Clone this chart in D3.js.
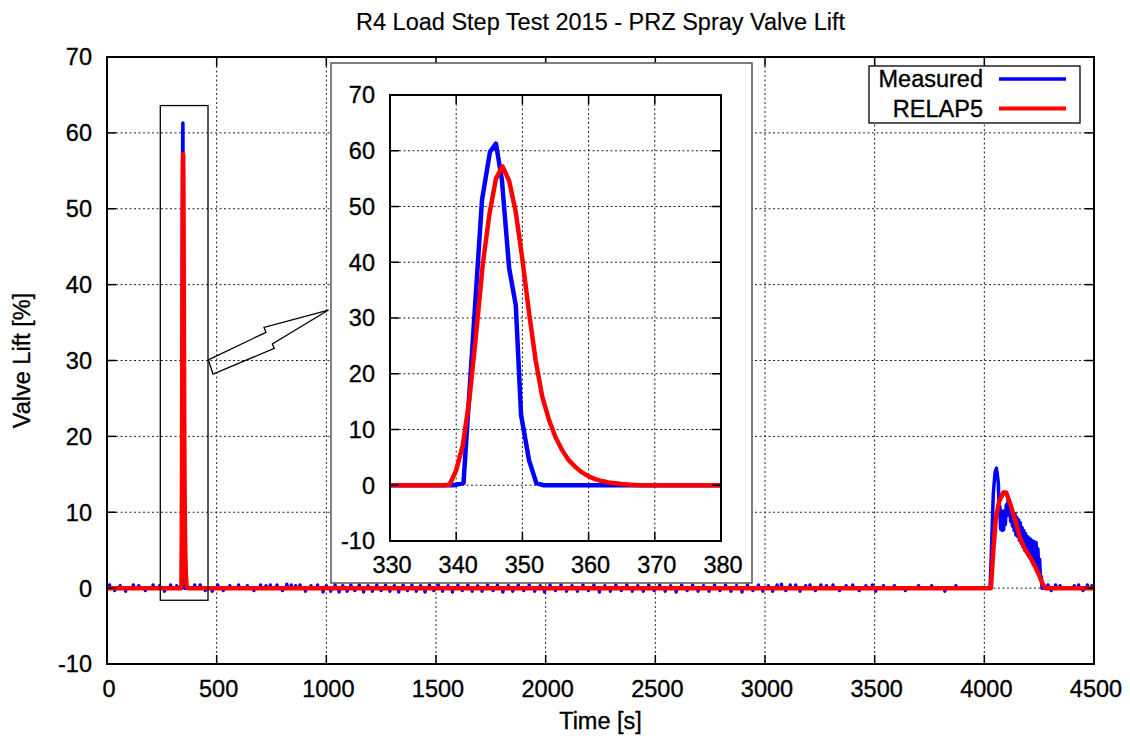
<!DOCTYPE html>
<html><head><meta charset="utf-8">
<script src="https://cdn.jsdelivr.net/npm/d3@7"></script>
<style>
body{margin:0;background:#fff;}
text{font-family:"Liberation Sans",Arial,Helvetica,sans-serif;fill:#000;stroke:#000;stroke-width:0.35px;}
</style>
</head><body>
<svg id="c" width="1130" height="740"></svg>
<script>
// ---------- data ----------
const chartTitle = "R4 Load Step Test 2015 - PRZ Spray Valve Lift";
const xLabel = "Time [s]";
const yLabel = "Valve Lift [%]";
const seriesNames = ["Measured", "RELAP5"];
const seriesColors = ["#0000ff", "#ff0000"];

const xTicksMain = [0, 500, 1000, 1500, 2000, 2500, 3000, 3500, 4000, 4500];
const yTicks = [-10, 0, 10, 20, 30, 40, 50, 60, 70];
const xTicksInset = [330, 340, 350, 360, 370, 380];

// Measured: first spray event (s, %)
const measuredPeak1 = [[336,0],[339.6,0],[341.1,0.4],[343.9,51.2],[345.1,59.8],[346,61.3],[346.9,54.8],
  [348,38.9],[349,32.3],[349.8,12.6],[351,4.5],[352.1,0.4],[353.2,0],[384,0]];
// Measured: second spray event
const measuredPeak2 = [[4026,0],[4030,3.0],[4034,6.5],[4041,12.5],[4049,15.3],[4055,15.8],[4060,14.8],[4064,13.8],
  [4068,9.5],[4071,10.8],[4074,7.8],[4078,10.2],[4081,7.6],[4085,9.8],[4088,7.7],[4092,10.2],[4096,8.4],
  [4100,11.0],[4104,9.6],[4108,11.5],[4112,9.8],[4116,10.8],[4120,8.8],[4124,10.0],[4128,8.2],[4132,9.6],
  [4136,7.6],[4140,9.8],[4144,7.0],[4148,9.3],[4152,6.8],[4156,9.0],[4160,6.3],[4164,8.6],[4168,5.9],
  [4172,8.0],[4176,5.5],[4180,7.6],[4184,5.0],[4188,7.2],[4192,4.7],[4196,6.8],[4200,4.4],[4204,6.6],
  [4208,4.1],[4212,6.4],[4216,3.9],[4220,6.2],[4224,3.7],[4228,6.1],[4232,3.5],[4236,6.0],[4240,3.2],
  [4244,5.2],[4248,2.5],[4252,3.8],[4256,1.2],[4260,1.5],[4263,0]];
// Measured: small noise spikes around zero (s, %)
const measuredNoise = [[12,0.4],[35,-0.3],[60,0.3],[85,-0.4],[120,0.4],[145,0.3],[175,-0.3],[210,0.4],[240,0.3],
  [262,-0.4],[290,0.4],[318,0.3],[400,0.4],[425,0.4],[448,-0.3],[480,-0.4],[505,0.4],[530,-0.3],[560,0.3],
  [600,0.4],[640,0.3],[670,-0.3],[700,0.4],[725,0.3],[745,0.4],[775,0.4],[800,-0.3],[820,0.5],[840,0.4],
  [860,0.3],[880,0.4],[905,-0.4],[930,0.3],[960,0.4],[985,-0.5],[1000,0.3],[1020,-0.4],[1040,0.4],[1058,-0.5],
  [1075,0.3],[1095,-0.4],[1112,0.4],[1130,-0.3],[1150,0.4],[1170,-0.5],[1190,0.3],[1210,-0.4],[1230,0.4],
  [1250,-0.3],[1270,0.4],[1290,-0.4],[1310,0.3],[1330,-0.5],[1350,0.4],[1370,-0.3],[1390,0.4],[1410,-0.4],
  [1430,0.3],[1450,-0.5],[1470,0.4],[1490,-0.3],[1510,0.4],[1530,-0.4],[1555,0.3],[1575,-0.5],[1600,0.4],
  [1620,-0.3],[1645,0.4],[1665,-0.4],[1690,0.3],[1710,-0.4],[1735,0.4],[1760,-0.3],[1780,0.4],[1805,-0.5],
  [1830,0.3],[1850,-0.4],[1875,0.4],[1900,-0.3],[1925,0.4],[1950,-0.4],[1975,0.3],[1995,-0.5],[2020,0.4],
  [2045,-0.3],[2070,0.4],[2095,-0.4],[2120,0.3],[2145,-0.4],[2170,0.4],[2195,-0.3],[2220,0.4],[2245,-0.5],
  [2270,0.3],[2295,-0.4],[2320,0.4],[2345,-0.3],[2370,0.4],[2395,-0.4],[2420,0.3],[2445,-0.4],[2470,0.4],
  [2495,-0.3],[2520,0.4],[2545,-0.4],[2570,0.3],[2595,-0.5],[2620,0.4],[2645,-0.3],[2670,0.4],[2695,-0.4],
  [2720,0.3],[2745,-0.4],[2770,0.4],[2795,-0.3],[2820,0.4],[2845,-0.4],[2870,0.3],[2895,-0.5],[2920,0.4],
  [2945,-0.3],[2970,0.4],[2990,-0.4],[3015,0.3],[3035,-0.4],[3055,0.4],[3075,0.5],[3095,-0.3],[3115,0.4],
  [3140,0.4],[3160,-0.4],[3185,0.3],[3205,0.4],[3230,-0.3],[3255,0.4],[3280,0.3],[3310,0.4],[3340,-0.3],
  [3370,0.3],[3400,0.4],[3430,-0.3],[3460,0.3],[3490,0.4],[3505,-0.4],[3540,0.3],[3590,0.3],[3640,-0.3],
  [3700,0.3],[3760,0.3],[3820,-0.4],[3870,0.3],[4290,0.4],[4305,-0.3],[4325,0.4],[4345,0.3],[4410,0.3],
  [4430,0.4],[4450,-0.3],[4470,0.4],[4490,0.3]];

// RELAP5 simulation
const relapPeak1 = [[330,0],[338,0],[339,0.1],[340,2.7],[341,7.2],[342,15.5],[343,27],[344,39.5],[345,48.5],
  [346,55],[347,57.2],[348,54.6],[349,49],[350,40.5],[351,31],[352,22.4],[353,15.9],[354,11.8],[355,8.6],
  [356,6.3],[357,4.5],[358,3.3],[359,2.3],[360,1.6],[361,1.1],[362,0.75],[363,0.5],[364,0.35],[365,0.22],
  [366,0.12],[367,0.06],[368,0.02],[369,0],[380,0]];
const relapPeak2 = [[4030,0],[4041,5.0],[4052,9.0],[4067,11.4],[4087,12.6],[4100,12.6],[4117,11.2],[4140,9.0],
  [4163,6.6],[4186,5.1],[4212,3.9],[4232,2.8],[4250,1.7],[4265,0.6],[4277,0]];

// zoom box and arrow annotations (data coordinates)
const zoomBox = {x0: 243, x1: 460.5, y0: -1.6, y1: 63.6};
const arrowPoints = [[461.9,30.09],[724.9,33.71],[715.8,34.37],[1009.9,36.65],[753.7,32.17],[762.8,31.6],[483.3,28.21]];

// ---------- build series ----------
let measured = [[0,0]];
measuredNoise.forEach(([t,v]) => measured.push([t-1.5,0],[t,v],[t+1.5,0]));
measured = measured.concat(measuredPeak1, measuredPeak2);
measured.push([4500,0]);
measured.sort((a,b) => a[0]-b[0]);
const relap = [[0,0]].concat(relapPeak1, relapPeak2, [[4500,0]]);

// ---------- layout ----------
const svg = d3.select("#c");
const P = {l:107, r:1094, t:57, b:664};
const I = {l:390, r:721, t:95, b:541};
const F = {l:331, t:63, r:752, b:583};
const FS = 23.5;

const x = d3.scaleLinear().domain([0,4500]).range([P.l,P.r]);
const y = d3.scaleLinear().domain([-10,70]).range([P.b,P.t]);
const xi = d3.scaleLinear().domain([330,380]).range([I.l,I.r]);
const yi = d3.scaleLinear().domain([-10,70]).range([I.b,I.t]);

const defs = svg.append("defs");
defs.append("clipPath").attr("id","cm").append("rect").attr("x",P.l).attr("y",P.t).attr("width",P.r-P.l).attr("height",P.b-P.t);
defs.append("clipPath").attr("id","ci").append("rect").attr("x",I.l).attr("y",I.t).attr("width",I.r-I.l).attr("height",I.b-I.t);

function drawPanel(g, xs, ys, xt, yt, box, lw) {
  g.append("g").selectAll("line").data(xt.filter(v => xs(v) > box.l+1 && xs(v) < box.r-1)).join("line")
    .attr("x1", d=>xs(d)).attr("x2", d=>xs(d)).attr("y1", box.t).attr("y2", box.b)
    .attr("stroke","#222").attr("stroke-width",1).attr("stroke-dasharray","2,2.5");
  g.append("g").selectAll("line").data(yt.filter(v => ys(v) > box.t+1 && ys(v) < box.b-1)).join("line")
    .attr("y1", d=>ys(d)).attr("y2", d=>ys(d)).attr("x1", box.l).attr("x2", box.r)
    .attr("stroke","#222").attr("stroke-width",1).attr("stroke-dasharray","2,2.5");
  const line = d3.line().x(d=>xs(d[0])).y(d=>ys(d[1]));
  const dg = g.append("g").attr("clip-path", box.clip);
  dg.append("path").datum(measured).attr("d", line).attr("fill","none")
    .attr("stroke", seriesColors[0]).attr("stroke-width", lw[0]).attr("stroke-linejoin","round");
  dg.append("path").datum(relap).attr("d", line).attr("fill","none")
    .attr("stroke", seriesColors[1]).attr("stroke-width", lw[1]).attr("stroke-linejoin","round");
}

function drawAxes(g, xs, ys, xt, yt, box, xLabY, yLabX) {
  const tl = 9;
  const tg = g.append("g").attr("stroke","#000").attr("stroke-width",1.5);
  xt.forEach(v => {
    tg.append("line").attr("x1",xs(v)).attr("x2",xs(v)).attr("y1",box.b).attr("y2",box.b-tl);
    tg.append("line").attr("x1",xs(v)).attr("x2",xs(v)).attr("y1",box.t).attr("y2",box.t+tl);
  });
  yt.forEach(v => {
    tg.append("line").attr("y1",ys(v)).attr("y2",ys(v)).attr("x1",box.l).attr("x2",box.l+tl);
    tg.append("line").attr("y1",ys(v)).attr("y2",ys(v)).attr("x1",box.r).attr("x2",box.r-tl);
  });
  g.append("rect").attr("x",box.l).attr("y",box.t).attr("width",box.r-box.l).attr("height",box.b-box.t)
    .attr("fill","none").attr("stroke","#000").attr("stroke-width",2);
  g.append("g").selectAll("text").data(xt).join("text")
    .attr("x", d=>xs(d)+2).attr("y", xLabY).attr("text-anchor","middle").attr("font-size",FS).text(d=>d);
  g.append("g").selectAll("text").data(yt).join("text")
    .attr("x", yLabX).attr("y", d=>ys(d)).attr("dy","0.36em").attr("text-anchor","end").attr("font-size",FS).text(d=>d);
}

// main panel
const gm = svg.append("g");
drawPanel(gm, x, y, xTicksMain, yTicks, {...P, clip:"url(#cm)"}, [3.5,4.5]);

gm.append("rect").attr("x", x(zoomBox.x0)).attr("y", y(zoomBox.y1))
  .attr("width", x(zoomBox.x1)-x(zoomBox.x0)).attr("height", y(zoomBox.y0)-y(zoomBox.y1))
  .attr("fill","none").attr("stroke","#000").attr("stroke-width",1.3);
gm.append("path").attr("d", d3.line().x(d=>x(d[0])).y(d=>y(d[1])).curve(d3.curveLinearClosed)(arrowPoints))
  .attr("fill","none").attr("stroke","#000").attr("stroke-width",1.3).attr("stroke-linejoin","miter");

drawAxes(gm, x, y, xTicksMain, yTicks, P, 697, 92);

// inset
const gi = svg.append("g");
gi.append("rect").attr("x",F.l).attr("y",F.t).attr("width",F.r-F.l).attr("height",F.b-F.t)
  .attr("fill","#fff").attr("stroke","#555").attr("stroke-width",1.5);
drawPanel(gi, xi, yi, xTicksInset, yTicks, {...I, clip:"url(#ci)"}, [4.5,4.5]);
drawAxes(gi, xi, yi, xTicksInset, yTicks, I, 573, 375);

// legend
const lg = svg.append("g");
lg.append("rect").attr("x",869).attr("y",66).attr("width",211).attr("height",57)
  .attr("fill","#fff").attr("stroke","#000").attr("stroke-width",1.3);
seriesNames.forEach((n,i) => {
  const yy = 79 + i*29.5;
  lg.append("text").attr("x",983).attr("y",yy).attr("dy","0.36em").attr("text-anchor","end").attr("font-size",FS).text(n);
  lg.append("line").attr("x1",999).attr("x2",1066).attr("y1",yy).attr("y2",yy)
    .attr("stroke",seriesColors[i]).attr("stroke-width",i===0?3.5:4);
});

// titles
svg.append("text").attr("x",(P.l+P.r)/2).attr("y",30).attr("text-anchor","middle").attr("font-size",FS).style("stroke-width","0.15px").text(chartTitle);
svg.append("text").attr("x",(P.l+P.r)/2).attr("y",729).attr("text-anchor","middle").attr("font-size",FS).text(xLabel);
svg.append("text").attr("transform",`translate(30,${(P.t+P.b)/2}) rotate(-90)`).attr("text-anchor","middle").attr("font-size",FS).text(yLabel);
</script>
</body></html>
